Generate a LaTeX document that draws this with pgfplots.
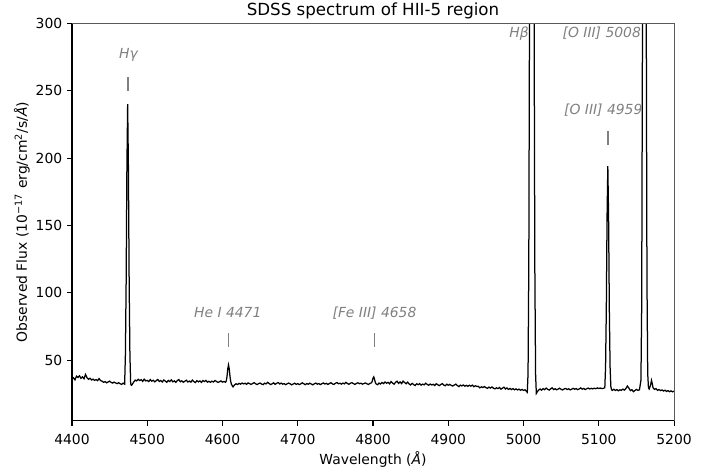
\documentclass[border=0pt]{standalone}
\usepackage{fontspec}
\setmainfont{DejaVu Sans}
\usepackage{pgfplots}
\pgfplotsset{compat=1.18}
\definecolor{annot}{RGB}{128,128,128}
\definecolor{spinegray}{RGB}{90,90,90}

\begin{document}
\begin{tikzpicture}
\begin{axis}[
    scale only axis,
    width=433.4pt, height=286.1pt,
    xmin=4400, xmax=5200, ymin=5, ymax=300,
    xtick={4400,4500,...,5200},
    ytick={50,100,...,300},
    tick align=outside,
    xtick pos=left, ytick pos=left,
    major tick length=3.5pt,
    axis line style={line width=0.8pt},
    every tick/.style={black, line width=0.8pt},
    /pgf/number format/assume math mode=true,
    /pgf/number format/1000 sep={},
    tick label style={font=\fontsize{10}{12}\selectfont},
    xticklabel style={yshift=-2.9pt},
    xlabel={Wavelength (\textit{Å})},
    xlabel style={font=\fontsize{10}{12}\selectfont, at={(axis description cs:0.5,-0.098)}, anchor=center},
    ylabel={Observed Flux (10\textsuperscript{−17} erg/cm\textsuperscript{2}/s/\textit{Å})},
    ylabel style={font=\fontsize{10}{12}\selectfont, at={(axis description cs:-0.083,0.5)}, anchor=center},
]

% spectrum
\addplot[black, line width=0.9pt] table {
x y
4400 35.8
4402 36.9
4404 35.4
4406 38.1
4408 37.2
4410 38.4
4412 36.5
4414 37.6
4416 36.2
4418 39.4
4420 37.0
4422 35.8
4424 36.6
4426 35.3
4428 35.9
4430 35.0
4432 35.6
4434 34.8
4436 36.3
4438 34.9
4440 34.4
4442 33.6
4444 34.1
4446 33.2
4448 33.8
4450 34.5
4452 33.5
4454 33.0
4456 33.7
4458 33.1
4460 32.6
4462 33.3
4464 32.5
4466 32.0
4468 33.0
4470 32.2
4471 54
4472 108
4473 193
4474 240
4475 193
4476 108
4477 54
4478 32.5
4479 31.4
4480 31.9
4482 33.8
4484 35.2
4486 34.6
4488 35.8
4490 34.9
4492 35.5
4494 34.3
4496 35.9
4498 34.6
4500 35.0
4502 34.1
4504 35.6
4506 34.4
4508 35.1
4510 33.9
4512 34.8
4514 35.7
4516 34.2
4518 34.9
4520 33.8
4522 35.3
4524 34.5
4526 33.6
4528 35.0
4530 34.1
4532 35.4
4534 33.9
4536 34.6
4538 33.5
4540 34.9
4542 35.6
4544 34.0
4546 34.7
4548 33.6
4550 34.4
4552 35.1
4554 33.8
4556 34.5
4558 33.7
4560 35.2
4562 34.0
4564 33.4
4566 34.8
4568 33.9
4570 34.6
4572 33.5
4574 34.9
4576 34.1
4578 35.0
4580 33.7
4582 34.3
4584 33.6
4586 34.4
4588 33.8
4590 34.9
4592 34.2
4594 33.5
4596 34.0
4598 34.6
4600 33.7
4602 34.2
4604 33.6
4605 34.5
4606 37.8
4607 43.5
4608 46.5
4609 43.5
4610 37.8
4611 34.0
4612 32.0
4613 31.0
4614 30.2
4616 31.6
4618 32.5
4620 31.9
4622 32.8
4624 32.2
4626 33.0
4628 32.4
4630 32.9
4632 32.1
4634 33.1
4636 32.6
4638 32.0
4640 32.7
4642 33.3
4644 32.5
4646 31.9
4648 32.6
4650 33.0
4652 32.3
4654 31.8
4656 32.9
4658 32.4
4660 33.6
4662 32.7
4664 31.9
4666 32.5
4668 33.2
4670 32.1
4672 32.8
4674 33.4
4676 32.3
4678 33.0
4680 32.2
4682 32.6
4684 31.8
4686 32.5
4688 33.0
4690 32.4
4692 31.7
4694 32.3
4696 32.9
4698 32.0
4700 32.6
4702 31.9
4704 32.4
4706 33.2
4708 32.5
4710 31.8
4712 32.7
4714 32.1
4716 32.9
4718 32.3
4720 31.7
4722 32.4
4724 33.0
4726 32.2
4728 32.6
4730 31.9
4732 32.5
4734 33.1
4736 32.3
4738 32.8
4740 32.0
4742 32.6
4744 33.3
4746 32.4
4748 32.0
4750 32.8
4752 33.4
4754 32.5
4756 32.9
4758 32.2
4760 33.0
4762 32.4
4764 33.5
4766 32.7
4768 32.1
4770 32.9
4772 33.3
4774 32.6
4776 32.0
4778 32.8
4780 33.2
4782 32.5
4784 32.9
4786 32.2
4788 32.7
4790 33.1
4792 32.4
4794 32.0
4796 32.8
4798 33.2
4799 34.4
4800 36.6
4801 37.6
4802 35.9
4803 33.6
4804 32.4
4806 31.8
4808 33.0
4810 32.3
4812 33.4
4814 32.6
4816 33.8
4818 32.9
4820 33.5
4822 32.4
4824 34.1
4826 33.0
4828 32.2
4830 33.6
4832 34.4
4834 32.8
4836 33.9
4838 32.6
4840 34.5
4842 33.4
4844 32.5
4846 33.7
4848 32.3
4850 31.6
4852 32.8
4854 31.9
4856 31.2
4858 32.5
4860 31.8
4862 32.6
4864 31.5
4866 32.2
4868 31.7
4870 32.9
4872 32.0
4874 31.4
4876 32.3
4878 31.6
4880 32.1
4882 31.2
4884 32.5
4886 31.8
4888 31.1
4890 31.9
4892 32.6
4894 31.5
4896 31.0
4898 32.2
4900 31.4
4902 32.0
4904 31.3
4906 30.8
4908 31.6
4910 32.2
4912 31.2
4914 30.4
4916 31.5
4918 30.9
4920 31.6
4922 30.7
4924 31.3
4926 30.6
4928 31.4
4930 30.7
4932 31.5
4934 30.3
4936 31.0
4938 30.5
4940 30.6
4942 29.5
4944 30.2
4946 29.7
4948 30.4
4950 29.6
4952 29.1
4954 30.0
4956 29.3
4958 30.1
4960 29.2
4962 28.7
4964 29.5
4966 28.9
4968 29.7
4970 28.5
4972 29.2
4974 30.0
4976 28.6
4978 29.4
4980 28.3
4982 29.0
4984 28.2
4986 28.9
4988 28.0
4990 28.7
4992 27.9
4994 28.5
4996 27.7
4998 28.3
5000 27.6
5002 28.0
5004 26.8
5005 26.2
5006 40
5007 120
5008 320
5009 560
5010 720
5011 749
5012 720
5013 560
5014 320
5015 120
5016 40
5017 25.3
5018 26.4
5020 27.8
5022 28.6
5024 27.7
5026 28.9
5028 28.1
5030 29.3
5032 28.4
5034 27.8
5036 28.7
5038 29.5
5040 28.2
5042 28.8
5044 28.0
5046 28.6
5048 29.2
5050 28.3
5052 27.9
5054 28.7
5056 29.0
5058 28.2
5060 28.8
5062 27.9
5064 28.5
5066 29.1
5068 28.4
5070 28.9
5072 28.1
5074 28.7
5076 29.4
5078 28.5
5080 29.0
5082 28.2
5084 28.8
5086 29.3
5088 28.6
5090 29.1
5092 28.7
5094 29.2
5096 28.8
5098 29.4
5100 29.0
5102 29.3
5104 28.9
5106 29.1
5108 29.5
5109 45
5110 88
5111 157
5112 194
5113 157
5114 88
5115 45
5116 30.5
5117 28.0
5118 27.6
5120 28.4
5122 27.5
5124 28.2
5126 27.3
5128 28.0
5130 27.6
5132 28.5
5134 27.8
5136 29.0
5138 30.8
5140 29.2
5142 27.4
5144 28.1
5146 26.6
5148 27.5
5150 28.3
5152 27.6
5154 28.0
5156 35
5157 90
5158 290
5159 500
5160 600
5161 610
5162 520
5163 320
5164 110
5165 40
5166 29.5
5167 28.6
5168 30.2
5169 32.0
5170 35.0
5171 32.8
5172 29.6
5174 28.3
5176 28.9
5178 27.6
5180 28.2
5182 27.4
5184 27.9
5186 27.1
5188 27.7
5190 26.8
5192 27.4
5194 26.6
5196 27.2
5198 26.5
5200 27.0
};

% line markers
\addplot[annot, line width=1.4pt, forget plot] coordinates {(4474,250) (4474,260)};
\addplot[annot, line width=1.4pt, forget plot] coordinates {(4608,60) (4608,70)};
\addplot[annot, line width=1.4pt, forget plot] coordinates {(4802,60) (4802,70)};
\addplot[annot, line width=1.4pt, forget plot] coordinates {(5112,210) (5112,220)};

% line labels
\begin{scope}[every node/.style={text=annot, font=\itshape\fontsize{10}{12}\selectfont, anchor=center}]
\node at (axis cs:4475,276.5) {Hγ};
\node at (axis cs:4607,85) {He I 4471};
\node at (axis cs:4802,85) {[Fe III] 4658};
\node at (axis cs:5106,235.4) {[O III] 4959};
\node at (axis cs:4994,292.6) {Hβ};
\node at (axis cs:5104,292.6) {[O III] 5008};
\end{scope}
\end{axis}
\draw[spinegray, line width=0.8pt] (current axis.north west) -- (current axis.north east) -- (current axis.south east);
\node[anchor=base, yshift=6pt, font=\fontsize{12}{14}\selectfont] at (current axis.north) {SDSS spectrum of HII-5 region};
\pgfresetboundingbox
\path (current axis.south west) ++(-51.8pt,-32.6pt) rectangle ++(515.4pt,335.5pt);
\end{tikzpicture}
\end{document}
